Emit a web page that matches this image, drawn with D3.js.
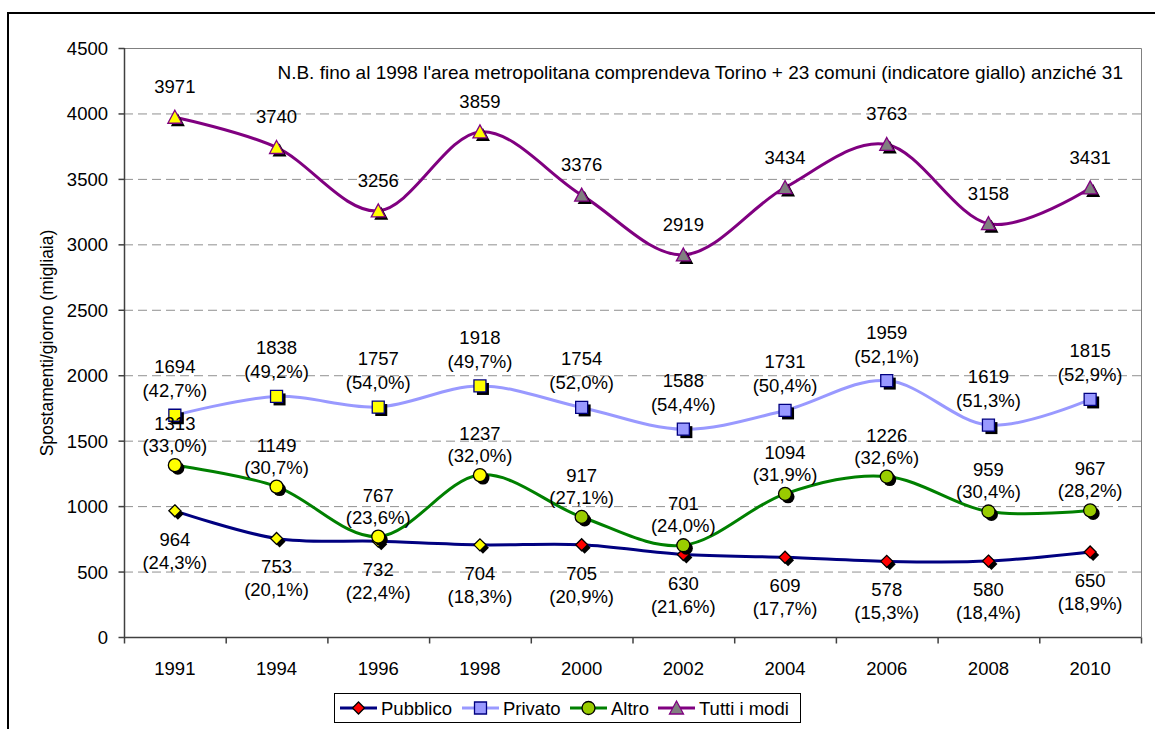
<!DOCTYPE html>
<html>
<head>
<meta charset="utf-8">
<script src="https://cdn.jsdelivr.net/npm/d3@7"></script>
<style>
  body { margin: 0; background: #fff; }
  svg { display: block; font-family: Arial, "Liberation Sans", sans-serif; }
</style>
</head>
<body>
<div id="chart"></div>
<script>
// values
const years = ['1991','1994','1996','1998','2000','2002','2004','2006','2008','2010'];
const pubblico = [964, 753, 732, 704, 705, 630, 609, 578, 580, 650];
const pubblicoPct = ['24,3','20,1','22,4','18,3','20,9','21,6','17,7','15,3','18,4','18,9'];
const privato = [1694, 1838, 1757, 1918, 1754, 1588, 1731, 1959, 1619, 1815];
const privatoPct = ['42,7','49,2','54,0','49,7','52,0','54,4','50,4','52,1','51,3','52,9'];
const altro = [1313, 1149, 767, 1237, 917, 701, 1094, 1226, 959, 967];
const altroPct = ['33,0','30,7','23,6','32,0','27,1','24,0','31,9','32,6','30,4','28,2'];
const tutti = [3971, 3740, 3256, 3859, 3376, 2919, 3434, 3763, 3158, 3431];
const yTicks = [0, 500, 1000, 1500, 2000, 2500, 3000, 3500, 4000, 4500];
const oldAreaYears = ['1991','1994','1996','1998']; // yellow markers
const note = "N.B. fino al 1998 l'area metropolitana comprendeva Torino + 23 comuni (indicatore giallo) anziché 31";

const W = 1155, H = 729;
const plot = {left: 124, right: 1141, top: 48, bottom: 637};

const series = [
  {name:'Pubblico', values:pubblico, pct:pubblicoPct, line:'#000080', fill:'#ff0000', stroke:'#000', shape:'diamond', dy:[28, 51]},
  {name:'Privato', values:privato, pct:privatoPct, line:'#9999ff', fill:'#9999ff', stroke:'#000080', shape:'square', dy:[-49, -25]},
  {name:'Altro', values:altro, pct:altroPct, line:'#008000', fill:'#99cc00', stroke:'#000', shape:'circle', dy:[-42, -20]},
  {name:'Tutti i modi', values:tutti, pct:null, line:'#800080', fill:'#808080', stroke:'#800080', shape:'triangle', dy:[-31]}
];

const svg = d3.select('#chart').append('svg').attr('width', W).attr('height', H);

function txt(sel, px, py, s, anchor, size) {
  return sel.append('text')
    .attr('x', px).attr('y', py)
    .attr('text-anchor', anchor || 'middle')
    .attr('font-size', size || 18.5)
    .attr('fill', '#000')
    .text(s);
}

// outer frame
svg.append('rect').attr('x', 8).attr('y', 13).attr('width', 1160).attr('height', 740)
  .attr('fill', 'none').attr('stroke', '#000').attr('stroke-width', 2);

const x = d3.scaleBand().domain(years).range([plot.left, plot.right]).padding(0);
const cx = d => x(d) + x.bandwidth() / 2;
const y = d3.scaleLinear().domain([0, 4500]).range([plot.bottom, plot.top]);

// gridlines
svg.append('g').selectAll('line').data(yTicks.filter(t => t > 0 && t < 4500)).join('line')
  .attr('x1', plot.left).attr('x2', plot.right)
  .attr('y1', d => y(d) + 0.5).attr('y2', d => y(d) + 0.5)
  .attr('stroke', '#909090').attr('stroke-dasharray', '9,5');

// plot border top/right
svg.append('path')
  .attr('d', `M${plot.left},${y(4500)+0.5}H${plot.right+0.5}V${plot.bottom}`)
  .attr('fill', 'none').attr('stroke', '#808080');

// y axis
const yAxis = svg.append('g').attr('transform', `translate(${plot.left + 0.5},0)`)
  .call(d3.axisLeft(y).tickValues(yTicks).tickSize(6).tickFormat(''));
yAxis.selectAll('line, path').attr('stroke', '#404040').attr('stroke-width', 1.5);
yAxis.select('.domain').attr('d', `M0,${plot.top}V${plot.bottom}`);
const yLab = svg.append('g');
yTicks.forEach(t => txt(yLab, 108, y(t) + 7, d3.format('d')(t), 'end'));

// x axis
const xAxis = svg.append('g').attr('transform', `translate(0,${plot.bottom + 0.5})`);
xAxis.append('line').attr('x1', plot.left).attr('x2', plot.right + 0.5)
  .attr('stroke', '#404040').attr('stroke-width', 1.5);
xAxis.selectAll('line.tk').data(years.concat(['end'])).join('line').attr('class', 'tk')
  .attr('x1', (d, i) => i < years.length ? x(d) + 0.5 : plot.right + 0.5)
  .attr('x2', (d, i) => i < years.length ? x(d) + 0.5 : plot.right + 0.5)
  .attr('y1', 0).attr('y2', 6).attr('stroke', '#404040').attr('stroke-width', 1.5);
years.forEach(yr => txt(xAxis, cx(yr), 37, yr));

// y title
svg.append('text').attr('transform', `translate(53,343) rotate(-90)`)
  .attr('text-anchor', 'middle').attr('font-size', 17.5).text('Spostamenti/giorno (migliaia)');

// note
txt(svg, 1123, 79, note, 'end', 19);

function markerPath(shape) {
  const p = d3.path();
  if (shape === 'diamond') { p.moveTo(0,-6); p.lineTo(6,0); p.lineTo(0,6); p.lineTo(-6,0); p.closePath(); }
  else if (shape === 'square') { p.rect(-6,-6,12,12); }
  else if (shape === 'circle') { p.arc(0,0,6.5,0,2*Math.PI); }
  else { p.moveTo(0,-7); p.lineTo(7,6); p.lineTo(-7,6); p.closePath(); }
  return p.toString();
}

const line = d3.line().x(d => cx(d.year)).y(d => y(d.v)).curve(d3.curveCatmullRom.alpha(0));

series.forEach(s => {
  const pts = years.map((yr, i) => ({year: yr, v: s.values[i], i}));
  const g = svg.append('g');
  g.append('path').datum(pts).attr('d', line)
    .attr('fill', 'none').attr('stroke', s.line).attr('stroke-width', 3);
  // shadows
  g.selectAll('path.sh').data(pts).join('path').attr('class', 'sh')
    .attr('d', markerPath(s.shape))
    .attr('transform', d => `translate(${cx(d.year) + 3},${y(d.v) + 3})`)
    .attr('fill', '#000');
  g.selectAll('path.mk').data(pts).join('path').attr('class', 'mk')
    .attr('d', markerPath(s.shape))
    .attr('transform', d => `translate(${cx(d.year)},${y(d.v)})`)
    .attr('fill', d => oldAreaYears.includes(d.year) ? '#ffff00' : s.fill)
    .attr('stroke', s.stroke).attr('stroke-width', 1.3);
  s.pts = pts;
});

// data labels on top
series.forEach(s => {
  const g = svg.append('g');
  s.pts.forEach(d => {
    txt(g, cx(d.year), y(d.v) + s.dy[0] + 7, d.v);
    if (s.pct) txt(g, cx(d.year), y(d.v) + s.dy[1] + 7, `(${s.pct[d.i]}%)`);
  });
});

// legend
const lg = svg.append('g');
lg.append('rect').attr('x', 334.5).attr('y', 693.5).attr('width', 466).attr('height', 29)
  .attr('fill', '#fff').attr('stroke', '#000');
const legX = [340, 462, 570, 658];
series.forEach((s, i) => {
  const g = lg.append('g').attr('transform', `translate(${legX[i]},708)`);
  g.append('line').attr('x1', 0).attr('x2', 37).attr('stroke', s.line).attr('stroke-width', 3);
  g.append('path').attr('d', markerPath(s.shape)).attr('transform', 'translate(18.5,0)')
    .attr('fill', s.fill).attr('stroke', s.stroke).attr('stroke-width', 1.3);
  txt(g, 41, 7, s.name, 'start');
});
</script>
</body>
</html>
